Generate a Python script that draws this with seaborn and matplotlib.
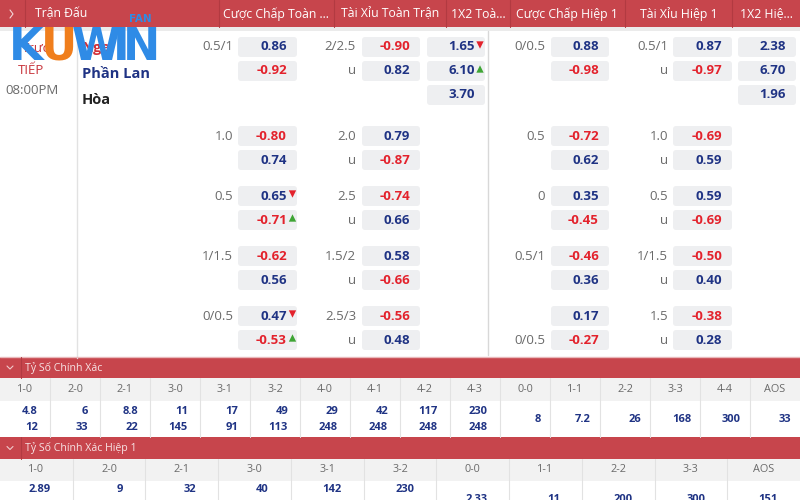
import matplotlib
matplotlib.use("Agg")
import matplotlib.pyplot as plt
from matplotlib.patches import FancyBboxPatch, Rectangle
import seaborn as sns
import pandas as pd


# ======================================
# DATA
# ======================================

header_labels = ["Trận Đấu", "Cược Chấp Toàn ...", "Tài Xỉu Toàn Trận", "1X2 Toà...",
                 "Cược Chấp Hiệp 1", "Tài Xỉu Hiệp 1", "1X2 Hiệ..."]

match_status = ["Trực", "TIẾP", "08:00PM"]
teams = ["Nga", "Phần Lan", "Hòa"]

# full time handicap
ft_hdp_lines = ["0.5/1", "1.0", "0.5", "1/1.5", "0/0.5"]
ft_hdp_home = [0.86, -0.80, 0.65, -0.62, 0.47]
ft_hdp_away = [-0.92, 0.74, -0.71, 0.56, -0.53]
ft_hdp_home_move = [0, 0, -1, 0, -1]
ft_hdp_away_move = [0, 0, 1, 0, 1]

# full time over / under
ft_ou_lines = ["2/2.5", "2.0", "2.5", "1.5/2", "2.5/3"]
ft_ou_over = [-0.90, 0.79, -0.74, 0.58, -0.56]
ft_ou_under = [0.82, -0.87, 0.66, -0.66, 0.48]

# full time 1x2
ft_1x2 = [1.65, 6.10, 3.70]
ft_1x2_move = [-1, 1, 0]

# first half handicap
h1_hdp_lines = ["0/0.5", "0.5", "0", "0.5/1", "0/0.5"]
h1_hdp_line_row = [0, 0, 0, 0, 1]
h1_hdp_home = [0.88, -0.72, 0.35, -0.46, 0.17]
h1_hdp_away = [-0.98, 0.62, -0.45, 0.36, -0.27]

# first half over / under
h1_ou_lines = ["0.5/1", "1.0", "0.5", "1/1.5", "1.5"]
h1_ou_over = [0.87, -0.69, 0.59, -0.50, -0.38]
h1_ou_under = [-0.97, 0.59, -0.69, 0.40, 0.28]

# first half 1x2
h1_1x2 = [2.38, 6.70, 1.96]

# correct score
cs_title = "Tỷ Số Chính Xác"
cs_labels = ["1-0", "2-0", "2-1", "3-0", "3-1", "3-2", "4-0", "4-1", "4-2", "4-3",
             "0-0", "1-1", "2-2", "3-3", "4-4", "AOS"]
cs_home = [4.8, 6, 8.8, 11, 17, 49, 29, 42, 117, 230]
cs_away = [12, 33, 22, 145, 91, 113, 248, 248, 248, 248]
cs_single = [8, 7.2, 26, 168, 300, 33]

# correct score first half
cs1_title = "Tỷ Số Chính Xác Hiệp 1"
cs1_labels = ["1-0", "2-0", "2-1", "3-0", "3-1", "3-2", "0-0", "1-1", "2-2", "3-3", "AOS"]
cs1_home = [2.89, 9, 32, 40, 142, 230]
cs1_single = [2.33, 11, 200, 300, 151]


# ======================================
# STYLE
# ======================================

sns.set_theme(style="white")
plt.rcParams["font.family"] = ["Open Sans", "DejaVu Sans"]

RED = "#C7454C"
RED_DARK = "#B23A41"
NAVY = "#1F3384"
ODD_RED = "#E3222C"
BOX = "#EEEFF1"
GREY_TXT = "#6A6A6A"
LINE = "#E2E2E2"
HEAD_BG = "#F2F2F2"

fig = plt.figure(figsize=(8, 5), dpi=100)
ax = fig.add_axes([0, 0, 1, 1])


def odd_color(v):
    return ODD_RED if v < 0 else NAVY


def odd_box(x0, x1, y, value, fs=9.5, color=None):
    ax.add_patch(FancyBboxPatch((x0, y - 10), x1 - x0, 20,
                                boxstyle="round,pad=0,rounding_size=3",
                                fc=BOX, ec="none", zorder=2))
    ax.text(x1 - 10, y, f"{value:.2f}", ha="right", va="center",
            fontsize=fs, fontweight="bold",
            color=color if color else odd_color(value), zorder=3)


# ======================================
# ODDS BLOCKS
# ======================================

group_y = [47, 136, 196, 256, 316]
ROW = 24

tri = []
for g, y in enumerate(group_y):
    # full time handicap
    ax.text(233, y, ft_hdp_lines[g], color=GREY_TXT, fontsize=9.5, ha="right", va="center")
    odd_box(238, 297, y, ft_hdp_home[g])
    odd_box(238, 297, y + ROW, ft_hdp_away[g])
    if ft_hdp_home_move[g]:
        tri.append((292.5, y - 2, ft_hdp_home_move[g]))
    if ft_hdp_away_move[g]:
        tri.append((292.5, y + ROW - 2, ft_hdp_away_move[g]))

    # full time over/under
    ax.text(356, y, ft_ou_lines[g], color=GREY_TXT, fontsize=9.5, ha="right", va="center")
    ax.text(356, y + ROW, "u", color=GREY_TXT, fontsize=9.5, ha="right", va="center")
    odd_box(362, 420, y, ft_ou_over[g])
    odd_box(362, 420, y + ROW, ft_ou_under[g])

    # first half handicap
    ax.text(545, y + ROW * h1_hdp_line_row[g], h1_hdp_lines[g], color=GREY_TXT,
            fontsize=9.5, ha="right", va="center")
    odd_box(551, 609, y, h1_hdp_home[g])
    odd_box(551, 609, y + ROW, h1_hdp_away[g])

    # first half over/under
    ax.text(668, y, h1_ou_lines[g], color=GREY_TXT, fontsize=9.5, ha="right", va="center")
    ax.text(668, y + ROW, "u", color=GREY_TXT, fontsize=9.5, ha="right", va="center")
    odd_box(673, 732, y, h1_ou_over[g])
    odd_box(673, 732, y + ROW, h1_ou_under[g])

for i, v in enumerate(ft_1x2):
    y = group_y[0] + ROW * i
    ax.add_patch(FancyBboxPatch((427, y - 10), 58, 20, boxstyle="round,pad=0,rounding_size=3",
                                fc=BOX, ec="none", zorder=2))
    ax.text(475, y, f"{v:.2f}", ha="right", va="center", fontsize=9.5,
            fontweight="bold", color=NAVY, zorder=3)
    if ft_1x2_move[i]:
        tri.append((480, y - 2, ft_1x2_move[i]))

for i, v in enumerate(h1_1x2):
    odd_box(738, 796, group_y[0] + ROW * i, v, color=NAVY)

tri_df = pd.DataFrame(tri, columns=["x", "y", "move"])
up = tri_df[tri_df["move"] > 0]
down = tri_df[tri_df["move"] < 0]
sns.scatterplot(data=up, x="x", y="y", marker="^", color="#3FA535", s=28,
                edgecolor="none", ax=ax, zorder=4, legend=False)
sns.scatterplot(data=down, x="x", y="y", marker="v", color="#E3222C", s=28,
                edgecolor="none", ax=ax, zorder=4, legend=False)

ax.set_xlim(0, 800)
ax.set_ylim(500, 0)
ax.axis("off")

# ======================================
# TOP HEADER
# ======================================

ax.add_patch(Rectangle((0, 0), 800, 27, fc=RED, ec="none"))
ax.add_patch(Rectangle((0, 27), 800, 4, fc="#EBEBEB", ec="none"))
for x in [25, 219, 334, 446, 510, 625, 732]:
    ax.plot([x, x], [0, 27], color=RED_DARK, lw=0.8)
ax.plot([10, 13, 10], [10, 14, 18], color="#F3D6D8", lw=0.8)

head_x = [35, 276, 390, 478, 567, 679, 766]
for i, lab in enumerate(header_labels):
    ax.text(head_x[i], 14, lab, color="white", fontsize=8.8,
            ha="left" if i == 0 else "center", va="center")

# ======================================
# MATCH INFO
# ======================================

ax.plot([77, 77], [31, 358], color=LINE, lw=1)
ax.plot([488, 488], [31, 355], color="#D8D8D8", lw=1)
ax.plot([0, 800], [357, 357], color="#E9B8BB", lw=1)

ax.text(36, 48, match_status[0], color="#C8343B", fontsize=9.5, ha="center", va="center")
ax.text(31, 70, match_status[1], color="#C8343B", fontsize=9.5, ha="center", va="center")
ax.text(32, 90, match_status[2], color=GREY_TXT, fontsize=9.5, ha="center", va="center")

team_colors = ["#D23039", NAVY, "#222222"]
for i, t in enumerate(teams):
    ax.text(82, 48 + 26 * i, t, color=team_colors[i], fontsize=10.5,
            fontweight="bold", ha="left", va="center")

# ======================================
# CORRECT SCORE TABLES
# ======================================


def section_bar(y0, y1, title):
    ax.add_patch(Rectangle((0, y0), 800, y1 - y0, fc=RED, ec="none"))
    ym = (y0 + y1) / 2
    ax.plot([7, 10, 13], [ym - 1.5, ym + 1.5, ym - 1.5], color="#F0C9CB", lw=0.8)
    ax.plot([21, 21], [y0, y1], color=RED_DARK, lw=0.8)
    ax.text(25, ym, title, color="#F7E3E4", fontsize=7.6, ha="left", va="center")


def fmt(v):
    return f"{v:g}"


# full time correct score
section_bar(357, 378, cs_title)
w = 800 / len(cs_labels)
ax.add_patch(Rectangle((0, 378), 800, 23, fc=HEAD_BG, ec="none"))
for i, lab in enumerate(cs_labels):
    x0 = i * w
    if i > 0:
        ax.plot([x0, x0], [378, 437], color=LINE, lw=0.8)
    ax.text(x0 + w / 2, 390, lab, color=GREY_TXT, fontsize=7.8, ha="center", va="center")
for i in range(len(cs_home)):
    xr = (i + 1) * w - 12
    ax.text(xr, 411, fmt(cs_home[i]), color=NAVY, fontsize=8, fontweight="bold",
            ha="right", va="center")
    ax.text(xr, 427, fmt(cs_away[i]), color=NAVY, fontsize=8, fontweight="bold",
            ha="right", va="center")
for j, v in enumerate(cs_single):
    xr = (len(cs_home) + j + 1) * w - 9
    ax.text(xr, 419, fmt(v), color=NAVY, fontsize=8, fontweight="bold",
            ha="right", va="center")

# first half correct score
section_bar(437, 459, cs1_title)
w1 = 800 / len(cs1_labels)
ax.add_patch(Rectangle((0, 459), 800, 22, fc=HEAD_BG, ec="none"))
for i, lab in enumerate(cs1_labels):
    x0 = i * w1
    if i > 0:
        ax.plot([x0, x0], [459, 500], color=LINE, lw=0.8)
    ax.text(x0 + w1 / 2, 470, lab, color=GREY_TXT, fontsize=7.8, ha="center", va="center")
for i, v in enumerate(cs1_home):
    ax.text((i + 1) * w1 - 22, 490, fmt(v), color=NAVY, fontsize=8, fontweight="bold",
            ha="right", va="center")
for j, v in enumerate(cs1_single):
    ax.text((len(cs1_home) + j + 1) * w1 - 22, 500, fmt(v), color=NAVY, fontsize=8,
            fontweight="bold", ha="right", va="center")

# ======================================
# LOGO WATERMARK
# ======================================

LOGO_BLUE = "#2F8BE6"
LOGO_ORANGE = "#F07E1C"
logo_parts = [("K", 9, LOGO_BLUE), ("U", 41, LOGO_ORANGE), ("W", 72, LOGO_BLUE),
              ("I", 113, LOGO_BLUE), ("N", 123, LOGO_BLUE)]
for ch, x, c in logo_parts:
    ax.text(x, 60, ch, color=c, fontsize=32, fontweight="heavy", ha="left",
            va="baseline", family="DejaVu Sans", zorder=6)
ax.text(129, 19, "FAN", color=LOGO_BLUE, fontsize=7.5, fontweight="bold",
        ha="left", va="center", family="DejaVu Sans", zorder=6)

fig.savefig("out.png", dpi=100)
